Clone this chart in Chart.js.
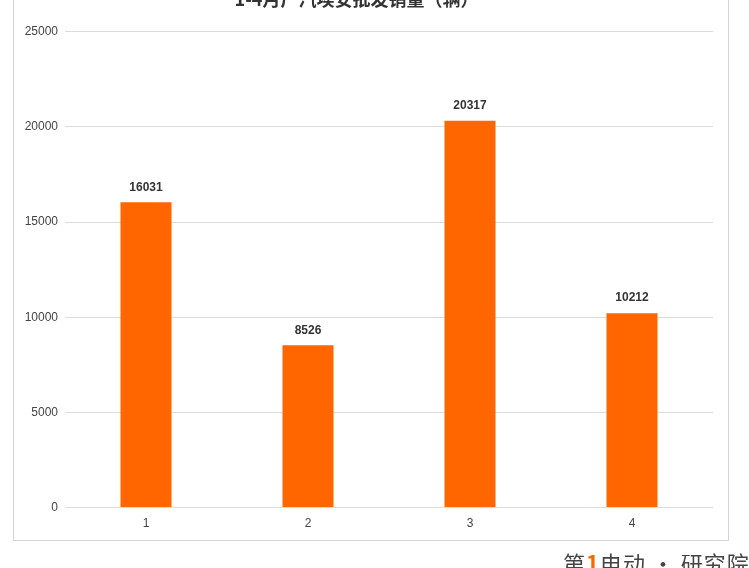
<!DOCTYPE html>
<html>
<head>
<meta charset="utf-8">
<script src="https://cdn.jsdelivr.net/npm/chart.js@4"></script>
<style>
  html, body { margin: 0; padding: 0; background: #fff; width: 749px; height: 568px; overflow: hidden; position: relative; }
  #frame { position: absolute; left: 13px; top: -20px; width: 716px; height: 561px; border: 1px solid #d4d4d4; box-sizing: border-box; }
  #wrap { position: absolute; left: 0; top: -12px; width: 749px; height: 580px; }
  #logo { position: absolute; left: 563px; top: 546px; font-family: "Noto Sans CJK SC", sans-serif; font-size: 22px; color: #444; white-space: nowrap; letter-spacing: 1px; }
  #logo b { color: #ff6600; }
</style>
</head>
<body>
<div id="frame"></div>
<div id="wrap"><canvas id="c" width="749" height="580"></canvas></div>
<div id="logo">第<b>1</b>电动 · 研究院</div>
<script>
const titleText = "1-4月广汽埃安批发销量（辆）";
const categories = ["1", "2", "3", "4"];
const sales = [16031, 8526, 20317, 10212];
const yTicks = [0, 5000, 10000, 15000, 20000, 25000];

const valueLabels = {
  id: "valueLabels",
  afterDatasetsDraw(chart) {
    const ctx = chart.ctx;
    const meta = chart.getDatasetMeta(0);
    ctx.save();
    ctx.font = "bold 12px 'Liberation Sans', Arial, sans-serif";
    ctx.fillStyle = "#333";
    ctx.textAlign = "center";
    ctx.textBaseline = "bottom";
    meta.data.forEach((bar, i) => {
      ctx.fillText(String(sales[i]), bar.x, bar.y - 9);
    });
    ctx.restore();
  }
};

new Chart(document.getElementById("c"), {
  type: "bar",
  data: {
    labels: categories,
    datasets: [{
      data: sales,
      backgroundColor: "#ff6600",
      borderWidth: 0,
      categoryPercentage: 1,
      barPercentage: 0.315
    }]
  },
  options: {
    responsive: false,
    animation: false,
    devicePixelRatio: 1,
    layout: { padding: { left: 0, right: 36, top: 0, bottom: 28 } },
    plugins: {
      legend: { display: false },
      tooltip: { enabled: false },
      title: {
        display: true,
        text: titleText,
        color: "#333",
        font: { size: 18, weight: "bold", family: "'Noto Sans CJK SC', sans-serif" },
        padding: { top: 0, bottom: 22 }
      }
    },
    scales: {
      x: {
        grid: { display: false, drawTicks: false },
        border: { display: false },
        ticks: { color: "#444", font: { size: 12, family: "'Liberation Sans', Arial, sans-serif" }, padding: 9 }
      },
      y: {
        min: 0,
        max: 25000,
        afterBuildTicks(scale) { scale.ticks = yTicks.map(v => ({ value: v })); },
        afterFit(scale) { scale.width = 65; },
        grid: { color: "#dcdcdc", drawTicks: false, lineWidth: 1 },
        border: { display: false },
        ticks: {
          color: "#444",
          font: { size: 12, family: "'Liberation Sans', Arial, sans-serif" },
          padding: 7,
          callback: (v) => String(v)
        }
      }
    }
  },
  plugins: [valueLabels]
});
</script>
</body>
</html>
